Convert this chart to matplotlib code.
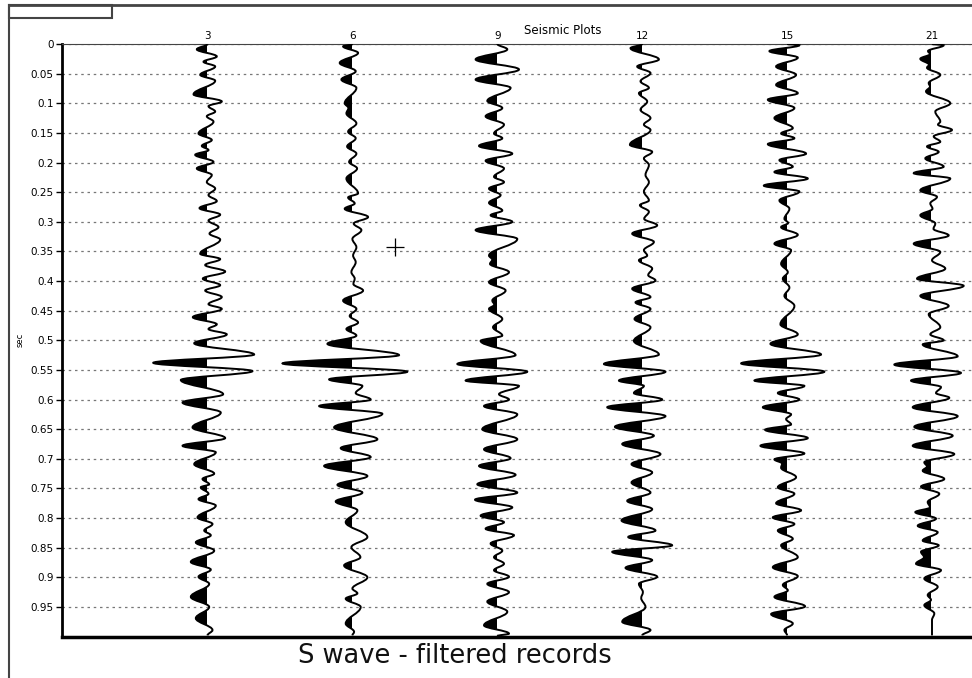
import matplotlib.pyplot as plt
from matplotlib.path import Path
from matplotlib.patches import PathPatch, Rectangle
from matplotlib.lines import Line2D

# channel names shown above each trace
channels = ["3", "6", "9", "12", "15", "21"]
time_ticks = [round(0.05 * i, 2) for i in range(20)]

# picked extrema of each trace: time (s) and amplitude (negative = left / black)
t_ch3 = [0.000, 0.009, 0.021, 0.030, 0.038, 0.052, 0.062, 0.085, 0.097, 0.105, 0.114, 0.122,
         0.131, 0.151, 0.162, 0.172, 0.179, 0.187, 0.199, 0.210, 0.221, 0.233, 0.244, 0.255,
         0.265, 0.277, 0.288, 0.298, 0.309, 0.320, 0.330, 0.354, 0.363, 0.373, 0.384, 0.396,
         0.407, 0.416, 0.427, 0.439, 0.447, 0.461, 0.473, 0.481, 0.490, 0.505, 0.524, 0.538,
         0.552, 0.567, 0.591, 0.605, 0.622, 0.647, 0.665, 0.678, 0.689, 0.709, 0.725, 0.734,
         0.743, 0.748, 0.759, 0.768, 0.779, 0.799, 0.810, 0.821, 0.829, 0.841, 0.855, 0.874,
         0.887, 0.899, 0.911, 0.933, 0.950, 0.969, 0.989, 0.998]
a_ch3 = [0, -10.7, 9.3, -4.0, 7.7, -7.3, 7.7, -14.0, 14.3, 1.0, 7.7, -0.7,
         6.0, -9.0, 4.3, -5.7, 1.0, -12.3, 6.0, -10.7, 4.3, -0.7, 7.7, 1.0,
         9.3, -8.0, 12.7, 1.0, 11.0, 2.0, 12.7, -7.3, 12.7, -2.3, 17.7, -4.7,
         12.7, -2.3, 14.3, 1.0, 14.3, -14.7, 9.3, 1.0, 19.3, -13.3, 46.7, -54.3,
         45.0, -26.7, 15.7, -25.0, 13.3, -15.0, 17.7, -25.0, 8.3, -13.3, 6.7, -5.0,
         1.7, -6.7, 1.0, -9.0, 8.3, -10.0, 5.0, -3.3, 3.3, -11.7, 6.7, -16.7,
         3.3, -9.0, 1.7, -16.7, 1.7, -11.7, 5.0, 0]

t_ch6 = [0.000, 0.004, 0.015, 0.032, 0.046, 0.060, 0.074, 0.100, 0.108, 0.117, 0.134, 0.148,
         0.159, 0.173, 0.185, 0.199, 0.210, 0.227, 0.252, 0.259, 0.269, 0.278, 0.292, 0.303,
         0.314, 0.329, 0.343, 0.357, 0.368, 0.385, 0.396, 0.405, 0.416, 0.433, 0.447, 0.459,
         0.470, 0.481, 0.492, 0.506, 0.525, 0.539, 0.553, 0.566, 0.577, 0.589, 0.600, 0.611,
         0.624, 0.647, 0.667, 0.682, 0.697, 0.712, 0.729, 0.744, 0.757, 0.772, 0.787, 0.807,
         0.832, 0.849, 0.866, 0.880, 0.900, 0.919, 0.927, 0.936, 0.950, 0.978, 0.992, 0.998]
a_ch6 = [0, -9.3, 5.7, -12.7, 3.3, -11.0, 4.0, -7.7, -4.0, -6.0, 4.0, -4.3,
         3.3, -5.3, 4.0, -3.3, 4.7, -6.0, 5.7, -4.3, 2.3, -7.7, 15.7, 1.3,
         9.0, 0.0, 4.0, 0.7, 3.3, -1.0, 2.3, 1.0, 10.7, -9.3, 4.0, -2.7,
         5.7, -6.0, 4.0, -25.0, 46.7, -70.0, 55.0, -23.3, 10.0, 3.3, 18.3, -33.3,
         30.0, -18.3, 25.0, -11.7, 18.3, -28.3, 15.0, -15.0, 10.0, -16.7, 5.0, -6.7,
         15.0, -1.0, 8.0, -8.3, 15.0, 0.0, 5.0, -6.7, 8.3, -6.7, 1.7, 0]

t_ch9 = [0.000, 0.009, 0.026, 0.043, 0.060, 0.074, 0.096, 0.108, 0.122, 0.136, 0.151, 0.159,
         0.172, 0.185, 0.197, 0.210, 0.224, 0.233, 0.244, 0.255, 0.268, 0.281, 0.289, 0.300,
         0.314, 0.329, 0.357, 0.364, 0.371, 0.385, 0.402, 0.416, 0.433, 0.440, 0.447, 0.464,
         0.478, 0.492, 0.501, 0.525, 0.540, 0.553, 0.568, 0.577, 0.591, 0.600, 0.611, 0.625,
         0.650, 0.667, 0.684, 0.699, 0.712, 0.727, 0.743, 0.757, 0.769, 0.782, 0.796, 0.807,
         0.818, 0.829, 0.843, 0.855, 0.866, 0.877, 0.888, 0.899, 0.911, 0.925, 0.941, 0.958,
         0.981, 0.995, 0.999]
a_ch9 = [0, 10.0, -21.7, 21.7, -21.7, 13.3, -10.0, 5.0, -11.7, 6.7, -3.3, 5.0,
         -18.3, 15.0, -11.7, 6.7, -3.3, 6.7, -8.3, 3.3, -8.3, 5.0, -6.7, 15.0,
         -21.7, 20.0, -8.3, -5.0, -7.3, 11.7, -8.3, 8.3, -5.0, -3.0, -8.3, 5.0,
         -4.3, 5.0, -16.7, 18.3, -40.0, 30.0, -31.7, 21.7, 1.7, 11.7, -13.3, 20.0,
         -15.0, 20.0, -13.3, 13.3, -18.3, 18.3, -20.0, 20.0, -22.3, 15.0, -16.7, 6.7,
         -11.7, 16.7, -6.7, 5.0, -3.3, 6.7, -3.3, 11.7, -10.0, 11.7, -10.0, 10.0,
         -13.3, 11.7, 0]

t_ch12 = [0.000, 0.007, 0.026, 0.038, 0.049, 0.063, 0.074, 0.083, 0.097, 0.111, 0.125, 0.136,
          0.145, 0.170, 0.182, 0.193, 0.204, 0.221, 0.233, 0.249, 0.264, 0.272, 0.283, 0.295,
          0.306, 0.320, 0.334, 0.348, 0.357, 0.365, 0.379, 0.390, 0.399, 0.413, 0.427, 0.436,
          0.447, 0.464, 0.478, 0.501, 0.524, 0.540, 0.553, 0.568, 0.577, 0.589, 0.600, 0.613,
          0.628, 0.646, 0.661, 0.675, 0.692, 0.709, 0.723, 0.740, 0.757, 0.771, 0.785, 0.804,
          0.821, 0.832, 0.846, 0.857, 0.871, 0.884, 0.899, 0.911, 0.925, 0.935, 0.950, 0.975,
          0.989, 0.998]
a_ch12 = [0, -11.7, 16.7, -5.0, 8.3, -1.7, 6.7, -3.3, 5.0, -1.7, 8.3, 1.7,
          8.3, -12.3, 10.0, 1.7, 6.7, 3.3, 6.7, 1.7, 6.7, -2.3, 6.7, 2.0,
          15.0, -10.0, 11.7, 1.7, 5.0, -3.3, 10.0, 6.0, 13.3, -10.0, 8.3, -6.7,
          8.3, -7.7, 8.3, -8.3, 16.7, -38.3, 23.3, -23.3, 1.7, -8.3, 20.0, -35.0,
          23.3, -27.3, 11.7, -20.0, 18.3, -10.7, 10.0, -10.7, 8.3, -15.0, 10.0, -20.7,
          13.3, -14.0, 30.0, -30.0, 10.0, -16.7, 15.0, -3.3, 0.7, -1.0, 3.3, -20.0,
          8.3, 0]

t_ch15 = [0.000, 0.002, 0.012, 0.023, 0.038, 0.052, 0.069, 0.083, 0.094, 0.108, 0.125, 0.142,
          0.151, 0.159, 0.169, 0.185, 0.196, 0.207, 0.216, 0.227, 0.239, 0.249, 0.264, 0.278,
          0.295, 0.302, 0.309, 0.322, 0.337, 0.348, 0.371, 0.385, 0.396, 0.411, 0.425, 0.442,
          0.473, 0.490, 0.506, 0.524, 0.539, 0.553, 0.568, 0.577, 0.589, 0.600, 0.613, 0.625,
          0.633, 0.642, 0.651, 0.665, 0.678, 0.691, 0.701, 0.708, 0.715, 0.731, 0.748, 0.759,
          0.775, 0.787, 0.799, 0.810, 0.821, 0.835, 0.846, 0.866, 0.883, 0.898, 0.913, 0.922,
          0.933, 0.949, 0.962, 0.978, 0.989, 0.998]
a_ch15 = [0, 12.3, -17.7, 10.7, -11.0, 9.0, -11.0, 10.7, -19.3, 7.3, -12.7, 5.7,
          -6.0, 7.3, -19.3, 19.0, -7.7, 5.7, -12.7, 20.7, -23.3, 12.3, -7.7, 2.3,
          -2.7, 1.0, -6.0, 10.7, -12.7, 4.0, -6.0, 0.7, -4.3, 2.3, -2.7, 7.3,
          -6.7, 10.7, -16.7, 34.0, -46.0, 37.3, -32.7, 17.3, -9.3, 12.3, -24.3, 4.0,
          -1.0, 4.0, -22.0, 20.7, -26.7, 17.3, -12.7, -5.0, -6.0, 9.0, -9.3, 7.3,
          -11.0, 14.0, -14.3, 7.3, -9.3, 5.7, -6.0, 10.7, -14.3, 10.7, -4.3, 0.7,
          -12.7, 18.0, -16.0, 5.7, -2.7, 0]

t_ch21 = [0.000, 0.002, 0.012, 0.017, 0.025, 0.035, 0.040, 0.052, 0.066, 0.072, 0.080, 0.100,
          0.114, 0.131, 0.136, 0.145, 0.156, 0.165, 0.173, 0.182, 0.193, 0.207, 0.218, 0.227,
          0.247, 0.258, 0.269, 0.278, 0.289, 0.303, 0.312, 0.323, 0.337, 0.351, 0.365, 0.379,
          0.396, 0.408, 0.425, 0.442, 0.456, 0.478, 0.490, 0.500, 0.507, 0.527, 0.541, 0.555,
          0.568, 0.579, 0.589, 0.597, 0.613, 0.628, 0.646, 0.661, 0.678, 0.692, 0.706, 0.713,
          0.720, 0.734, 0.747, 0.759, 0.773, 0.782, 0.790, 0.801, 0.813, 0.824, 0.838, 0.846,
          0.857, 0.866, 0.877, 0.888, 0.902, 0.916, 0.930, 0.938, 0.947, 0.961, 0.972, 0.998]
a_ch21 = [0, 11.7, -4.0, -2.0, -11.7, -3.0, -5.0, 8.3, -3.3, -2.0, -6.0, 18.3,
          3.3, 8.3, 6.0, 20.0, 1.7, 8.3, -5.0, 6.7, -6.7, 11.7, -18.3, 18.3,
          -11.7, 5.0, -1.7, 0.5, -11.7, 3.3, 1.5, 16.7, -18.3, 8.3, 0.0, 13.3,
          -15.0, 31.7, -11.7, 16.7, -3.3, 8.3, -1.7, 11.7, -9.3, 25.7, -37.7, 29.0,
          -21.0, 9.0, 4.0, 17.3, -19.3, 25.7, -17.7, 20.7, -19.3, 22.3, -7.7, -5.0,
          -9.3, 12.3, -11.0, 7.3, -4.3, -2.0, -16.7, 4.0, -14.3, 5.7, -9.3, 6.7,
          -11.0, -8.0, -16.0, 9.0, -7.7, 5.7, -4.3, -1.0, -7.7, 2.3, 0.0, 0]

traces = [(t_ch3, a_ch3), (t_ch6, a_ch6), (t_ch9, a_ch9),
          (t_ch12, a_ch12), (t_ch15, a_ch15), (t_ch21, a_ch21)]

GAIN = 1 / 145.0   # amplitude units -> trace spacing


def wiggle_path(x0, times, amps):
    # smooth curve through the picked extrema, vertical tangent at each one
    xs = [x0 + a * GAIN for a in amps]
    verts = [(xs[0], times[0])]
    codes = [Path.MOVETO]
    for i in range(1, len(times)):
        dt = times[i] - times[i - 1]
        verts += [(xs[i - 1], times[i - 1] + 0.37 * dt),
                  (xs[i], times[i] - 0.37 * dt),
                  (xs[i], times[i])]
        codes += [Path.CURVE4] * 3
    return verts, codes


fig = plt.figure(figsize=(9.72, 6.78), dpi=100)
ax = fig.add_axes([62 / 972, 1 - 636.6 / 678, 1 - 62 / 972, 592.6 / 678])

x_left = (62 - 207.5) / 144.9 + 1
x_right = (972 - 207.5) / 144.9 + 1
ax.set_xlim(x_left, x_right)
ax.set_ylim(1.0, 0.0)

for k, (times, amps) in enumerate(traces):
    x0 = k + 1
    verts, codes = wiggle_path(x0, times, amps)

    # variable-area fill on the negative side; clip edge kept just left of
    # the zero line so no grey sliver shows along it
    fill_verts = verts + [(x0, times[-1]), (x0, times[0]), (x0, times[0])]
    fill_codes = codes + [Path.LINETO, Path.LINETO, Path.CLOSEPOLY]
    fill = PathPatch(Path(fill_verts, fill_codes), facecolor="black",
                     edgecolor="none", zorder=3)
    ax.add_patch(fill)
    fill.set_clip_path(Rectangle((x0 - 1, -0.5), 1 - 0.004, 2,
                                 transform=ax.transData))

    ax.add_patch(PathPatch(Path(verts, codes), fill=False, edgecolor="black",
                           linewidth=1.4, zorder=4))

# cursor cross
ax.plot(2.294, 0.3426, marker="+", color="black", markersize=13,
        markeredgewidth=0.9, zorder=5)

# axes styling
ax.set_yticks(time_ticks)
ax.set_yticklabels(["%g" % v for v in time_ticks])
ax.tick_params(axis="y", length=4, width=1, labelsize=7.5, pad=2)
ax.set_xticks(range(1, len(channels) + 1))
ax.set_xticklabels(channels)
ax.xaxis.set_ticks_position("top")
ax.tick_params(axis="x", length=0, labelsize=7.5, pad=2)
ax.grid(axis="y", color="#777777", linestyle=(0, (2, 3)), linewidth=0.9)
ax.set_axisbelow(True)
ax.spines["right"].set_visible(False)
ax.spines["left"].set_linewidth(2)
ax.spines["bottom"].set_linewidth(2.5)
ax.spines["top"].set_linewidth(0.8)
ax.spines["top"].set_color("#444444")

fig.text(20 / 972, 1 - 340 / 678, "sec", rotation=90, ha="center",
         va="center", fontsize=6)
fig.text(563 / 972, 1 - 30 / 678, "Seismic Plots", ha="center", va="center",
         fontsize=8.5)
fig.text(455 / 972, 1 - 656 / 678, "S wave - filtered records", ha="center",
         va="center", fontsize=18.5, color="#111111")

# outer window frame
fig.add_artist(Line2D([9 / 972, 1], [1 - 5 / 678, 1 - 5 / 678],
                      transform=fig.transFigure, color="#444444", linewidth=2))
fig.add_artist(Line2D([9 / 972, 9 / 972], [0, 1 - 5 / 678],
                      transform=fig.transFigure, color="#444444", linewidth=1.5))
fig.add_artist(Rectangle((9 / 972, 1 - 18 / 678), 103 / 972, 13 / 678,
                         transform=fig.transFigure, fill=False,
                         edgecolor="#444444", linewidth=1.5))

fig.savefig("out.png", dpi=100)
